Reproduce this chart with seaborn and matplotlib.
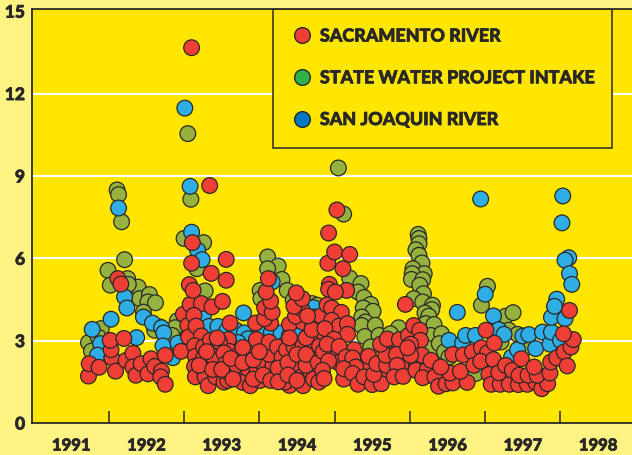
import matplotlib
matplotlib.use("Agg")
import matplotlib.pyplot as plt
import matplotlib.patheffects as pe
from matplotlib.lines import Line2D
from matplotlib.patches import Rectangle
import pandas as pd
import seaborn as sns

# Values (decimal year, concentration)
sac_year = [1991.73, 1991.74, 1991.87, 1992.04, 1992.03, 1992.02, 1992.09, 1992.12, 1992.16, 1992.20,
            1992.23, 1992.32, 1992.32, 1992.36, 1992.43, 1992.52, 1992.56, 1992.61, 1992.70, 1992.69,
            1992.75, 1992.75, 1992.96, 1992.99, 1993.05, 1993.06, 1993.08, 1993.07, 1993.12, 1993.10,
            1993.11, 1993.23, 1993.13, 1993.16, 1993.23, 1993.14, 1993.15, 1993.14, 1993.15, 1993.26,
            1993.26, 1993.26, 1993.28, 1993.32, 1993.35, 1993.37, 1993.36, 1993.51, 1993.56, 1993.56,
            1993.61, 1993.59, 1993.60, 1993.41, 1993.41, 1993.42, 1993.47, 1993.53, 1993.55, 1993.53,
            1993.58, 1993.55, 1993.69, 1993.70, 1993.73, 1993.78, 1993.88, 1993.85, 1993.87, 1993.96,
            1993.95, 1993.97, 1994.01, 1994.05, 1994.09, 1994.18, 1994.18, 1994.13, 1994.13, 1994.24,
            1994.30, 1994.30, 1994.15, 1994.07, 1994.07, 1994.17, 1994.15, 1994.09, 1994.12, 1994.36,
            1994.46, 1994.58, 1994.40, 1994.58, 1994.48, 1994.56, 1994.46, 1994.57, 1994.49, 1994.71,
            1994.73, 1994.73, 1994.69, 1994.49, 1994.40, 1994.58, 1994.34, 1994.45, 1994.67,
            1993.20, 1993.30, 1993.44, 1993.38, 1993.50, 1993.62, 1993.65, 1993.78, 1993.78, 1993.92,
            1993.92, 1994.00, 1994.05, 1994.15, 1994.25, 1994.25, 1994.38, 1994.38, 1994.50, 1994.50,
            1994.62, 1994.62, 1994.62, 1994.40, 1994.72, 1994.78, 1994.80, 1994.85, 1994.82, 1994.90,
            1994.95, 1995.05, 1995.12, 1995.02, 1994.85, 1994.70, 1994.64, 1995.42, 1995.65, 1995.75,
            1995.90, 1996.06, 1995.88, 1996.28, 1996.42, 1996.63, 1997.25,
            1994.92, 1994.91, 1995.00, 1995.20, 1995.11, 1995.16, 1994.93, 1994.92, 1995.01, 1995.94,
            1994.96, 1995.09, 1994.96, 1995.06, 1995.17, 1994.87, 1995.17, 1994.99, 1994.90, 1995.06,
            1995.26, 1995.15, 1995.24, 1995.45, 1994.92, 1995.28, 1995.12, 1994.84, 1994.79, 1994.86,
            1995.24, 1995.31, 1995.39, 1995.50, 1995.62, 1995.52, 1995.56, 1995.69, 1995.68, 1995.61,
            1995.70, 1995.86, 1995.82, 1995.98, 1996.05, 1996.13, 1996.14, 1996.01, 1996.16, 1996.01,
            1995.97, 1995.83, 1995.79, 1995.91, 1996.08, 1996.23, 1996.28, 1996.17, 1996.33, 1996.38,
            1996.48, 1996.57, 1996.76, 1996.53, 1996.67, 1996.41, 1996.57, 1996.71, 1996.83, 1996.95,
            1997.03, 1996.85, 1996.94, 1997.11, 1997.12, 1997.01, 1997.05, 1997.08, 1997.20, 1997.32,
            1997.44, 1997.56, 1997.67, 1997.75, 1997.83, 1997.18, 1997.27, 1997.36, 1997.48, 1997.45,
            1997.57, 1997.69, 1997.65, 1997.86, 1997.87, 1997.95, 1998.05, 1998.14, 1998.17, 1998.04,
            1998.09, 1998.12, 1993.10, 1993.34, 1995.03]
sac_value = [1.71, 2.16, 2.03, 2.38, 2.67, 3.01, 1.89, 5.26, 5.06, 3.08,
             2.28, 2.54, 2.04, 1.74, 2.16, 1.79, 2.34, 2.06, 1.89, 1.68,
             1.41, 2.47, 2.61, 3.96, 3.55, 3.13, 4.32, 5.04, 4.83, 5.82,
             6.57, 4.35, 3.92, 3.53, 3.17, 2.81, 2.43, 2.06, 1.68, 2.77,
             2.38, 1.94, 1.68, 1.36, 3.01, 4.23, 5.45, 4.43, 5.20, 5.96,
             3.64, 3.04, 2.61, 2.65, 2.26, 1.68, 2.95, 2.55, 2.16, 1.49,
             1.55, 1.89, 1.74, 2.10, 2.50, 1.48, 1.36, 1.98, 2.61, 3.04,
             3.64, 1.89, 1.55, 2.16, 1.74, 1.68, 2.10, 2.50, 2.95, 2.77,
             2.40, 1.62, 3.64, 3.80, 4.20, 4.03, 4.44, 4.78, 5.26, 2.67,
             2.77, 2.81, 3.59, 3.67, 3.89, 4.17, 4.25, 4.53, 4.74, 3.52,
             3.86, 2.95, 2.32, 1.98, 1.37, 1.36, 1.49, 2.16, 1.92,
             2.10, 2.60, 3.10, 1.95, 1.95, 2.35, 1.60, 2.20, 2.75, 2.30,
             1.60, 2.60, 1.75, 1.55, 2.00, 1.50, 2.20, 1.75, 2.50, 1.55,
             2.10, 2.50, 3.10, 3.10, 1.60, 2.20, 2.80, 3.30, 3.90, 4.30,
             2.60, 2.20, 1.60, 3.30, 2.60, 3.40, 3.90, 2.05, 1.75, 2.50,
             2.40, 2.00, 2.10, 1.75, 1.50, 1.65, 1.70,
             6.92, 5.82, 6.23, 6.14, 5.62, 4.83, 5.05, 4.87, 4.77, 4.32,
             4.19, 4.03, 3.74, 3.53, 3.62, 3.44, 3.23, 3.05, 2.87, 2.79,
             2.67, 2.40, 2.37, 2.43, 2.26, 2.04, 1.98, 1.92, 1.49, 1.62,
             1.80, 1.41, 1.68, 1.40, 1.43, 1.77, 2.16, 2.10, 2.47, 2.87,
             3.06, 3.04, 2.50, 3.19, 3.55, 3.38, 3.01, 2.87, 2.47, 2.47,
             2.74, 2.10, 1.68, 1.70, 1.92, 1.94, 2.28, 1.65, 1.68, 1.34,
             1.43, 1.46, 1.48, 1.82, 1.88, 2.04, 2.50, 2.48, 2.59, 2.74,
             2.55, 2.10, 2.25, 2.31, 2.91, 3.38, 1.77, 1.41, 1.41, 1.41,
             1.40, 1.41, 1.49, 1.25, 1.43, 1.83, 2.10, 1.92, 2.34, 1.74,
             1.74, 1.74, 2.04, 1.82, 2.22, 2.37, 2.59, 2.77, 3.04, 3.25,
             2.08, 4.10, 13.67, 8.65, 7.76]

swp_year = [1991.73, 1991.77, 1991.90, 1991.86, 1991.99, 1992.02, 1992.21, 1992.25, 1992.39, 1992.26,
            1992.41, 1992.54, 1992.52, 1992.62, 1992.46, 1992.68, 1992.61, 1992.91, 1992.88, 1992.84,
            1993.00, 1993.26, 1993.17, 1993.28, 1994.11, 1994.25, 1994.11, 1994.30, 1994.37, 1994.01,
            1994.02, 1994.45, 1994.70, 1994.77, 1995.20, 1995.35, 1995.31, 1995.39, 1995.48, 1995.38,
            1995.51, 1995.36, 1995.41, 1995.36, 1995.54, 1995.40, 1995.59, 1995.85, 1995.74, 1995.48,
            1996.11, 1996.12, 1996.12, 1996.08, 1996.12, 1996.16, 1996.04, 1996.19, 1996.03, 1996.02,
            1996.17, 1996.13, 1996.18, 1996.05, 1996.17, 1996.30, 1996.29, 1996.20, 1996.25, 1996.21,
            1996.32, 1996.28, 1996.42, 1996.28, 1996.39, 1996.46, 1996.52, 1996.87, 1996.95, 1997.03,
            1997.27, 1997.37, 1997.31, 1997.43, 1997.21, 1997.56, 1993.05, 1993.09, 1992.11, 1992.13,
            1992.17, 1995.12, 1995.05]
swp_value = [2.93, 2.62, 3.44, 3.13, 5.56, 5.02, 5.95, 5.26, 4.95, 5.05,
             4.53, 4.68, 4.41, 4.38, 4.04, 3.50, 3.38, 3.72, 3.47, 3.19,
             6.72, 6.57, 5.62, 4.81, 6.05, 5.72, 5.62, 5.23, 4.83, 4.83,
             4.53, 4.47, 4.35, 4.29, 5.28, 5.08, 4.77, 4.57, 4.32, 4.19,
             4.07, 3.86, 3.68, 3.55, 3.56, 3.15, 3.19, 3.47, 3.25, 2.77,
             6.87, 6.72, 6.53, 6.31, 6.11, 5.83, 5.62, 5.44, 5.44, 5.23,
             5.22, 5.02, 4.71, 4.53, 4.41, 4.29, 4.13, 4.01, 3.89, 3.62,
             3.59, 3.19, 3.25, 2.71, 2.89, 2.59, 2.40, 1.80, 4.29, 4.98,
             3.89, 4.02, 3.38, 3.23, 2.95, 2.77, 10.54, 8.15, 8.49, 8.32,
             7.33, 7.61, 9.29]

sj_year = [1991.78, 1992.03, 1991.89, 1991.85, 1992.37, 1992.21, 1992.24, 1992.46, 1992.58, 1992.70,
           1992.73, 1992.72, 1992.85, 1992.92, 1993.10, 1993.18, 1993.24, 1993.26, 1993.33, 1993.45,
           1993.57, 1993.69, 1993.79, 1993.80, 1993.85, 1993.72, 1994.03, 1994.02, 1994.16, 1994.29,
           1994.40, 1994.54, 1994.65, 1994.35, 1994.72, 1994.17, 1994.79, 1996.52, 1996.63, 1996.70,
           1996.74, 1996.87, 1997.00, 1997.11, 1997.18, 1997.25, 1997.35, 1997.43, 1997.50, 1997.58,
           1997.67, 1997.76, 1997.86, 1997.88, 1998.00, 1997.88, 1997.95, 1997.92, 1998.06, 1998.11,
           1998.06, 1998.12, 1998.15, 1993.01, 1993.08, 1992.13, 1996.94, 1998.03, 1998.02]
sj_value = [3.41, 3.78, 2.89, 2.47, 3.11, 4.59, 4.19, 3.86, 3.64, 3.47,
            3.28, 2.81, 2.38, 2.91, 6.95, 6.29, 5.95, 3.96, 3.52, 3.52,
            3.38, 3.38, 4.01, 3.28, 3.07, 2.93, 3.31, 2.67, 3.31, 3.28,
            3.19, 3.23, 3.19, 2.89, 4.20, 5.14, 2.55, 3.01, 4.03, 2.91,
            3.19, 3.19, 4.69, 3.90, 3.40, 3.23, 2.40, 2.67, 3.17, 3.22,
            2.71, 3.31, 2.87, 3.31, 3.01, 3.85, 4.51, 4.25, 3.80, 6.02,
            5.93, 5.44, 5.05, 11.47, 8.62, 7.83, 8.16, 8.27, 7.29]

series_names = ["SACRAMENTO RIVER", "STATE WATER PROJECT INTAKE", "SAN JOAQUIN RIVER"]
year_ticks = [1992, 1993, 1994, 1995, 1996, 1997, 1998]
year_labels = ["1991", "1992", "1993", "1994", "1995", "1996", "1997", "1998"]
y_ticks = [0, 3, 6, 9, 12, 15]

DARK = "#2a2827"
YELLOW = "#FFE600"
PALE = "#FFF383"
point_colors = {series_names[0]: "#EF3E36", series_names[1]: "#95B23F", series_names[2]: "#2FAEE6"}
legend_colors = {series_names[0]: "#EF3E36", series_names[1]: "#2DB34A", series_names[2]: "#0077C0"}

plt.rcParams["font.family"] = ["Lato", "DejaVu Sans"]
heavy = [pe.withStroke(linewidth=0.5, foreground=DARK)]

# Draw order matters: olive at the back, red on top
df = pd.concat([
    pd.DataFrame({"year": swp_year, "value": swp_value, "site": series_names[1]}),
    pd.DataFrame({"year": sj_year, "value": sj_value, "site": series_names[2]}),
    pd.DataFrame({"year": sac_year, "value": sac_value, "site": series_names[0]}),
], ignore_index=True)

fig = plt.figure(figsize=(6.32, 4.56), dpi=100, facecolor=PALE)
ax = fig.add_axes([32 / 632, 32 / 456, 600 / 632, 414 / 456], facecolor=YELLOW)

ax.grid(False)
for tick in y_ticks[1:-1]:
    ax.axhline(tick, color="white", lw=1.5, zorder=1)

sns.scatterplot(data=df, x="year", y="value", hue="site", palette=point_colors, s=128,
                edgecolor=DARK, linewidth=0.9, alpha=1, legend=False, ax=ax, zorder=3)

ax.set_xlim(1990.98, 1998.95)
ax.set_ylim(0, 15.08)
ax.set_xlabel("")
ax.set_ylabel("")

ax.set_xticks(year_ticks)
ax.set_xticklabels([])
ax.set_xticks([y + 0.5 for y in range(1991, 1999)], minor=True)
ax.set_xticklabels(year_labels, minor=True, fontsize=12, fontweight="black", color=DARK)
ax.tick_params(axis="x", which="major", direction="in", length=8.6, width=1.1, color=DARK)
ax.tick_params(axis="x", which="minor", length=0, pad=10.5)
ax.set_yticks(y_ticks)
ax.set_yticklabels([str(t) for t in y_ticks], fontsize=12.5, fontweight="black", color=DARK)
ax.tick_params(axis="y", length=0, pad=5)
for label in ax.get_xticklabels(minor=True) + ax.get_yticklabels():
    label.set_path_effects(heavy)

for side in ["left", "bottom", "top"]:
    ax.spines[side].set_color(DARK)
    ax.spines[side].set_linewidth(1.3)
ax.spines["right"].set_visible(False)

# Legend box sits over the grid lines; its padding is uneven so the frame is a separate patch
ax.add_patch(Rectangle((241 / 600, 275 / 414), 339 / 600, 139 / 414, transform=ax.transAxes,
                       facecolor=YELLOW, edgecolor=DARK, lw=1.1, zorder=2))
handles = [Line2D([], [], ls="", marker="o", ms=11.3, mfc=legend_colors[n], mec=DARK, mew=1, label=n)
           for n in series_names]
leg = ax.legend(handles=handles, loc="upper left", bbox_to_anchor=(251 / 600, 399 / 414), borderaxespad=0,
                frameon=False, prop={"size": 12.9, "weight": "black"}, labelcolor=DARK, labelspacing=1.38,
                handletextpad=0.11, borderpad=0.2, handlelength=1.75)
leg.set_zorder(5)
for text in leg.get_texts():
    text.set_path_effects(heavy)

fig.savefig("out.png", dpi=100, facecolor=PALE)
